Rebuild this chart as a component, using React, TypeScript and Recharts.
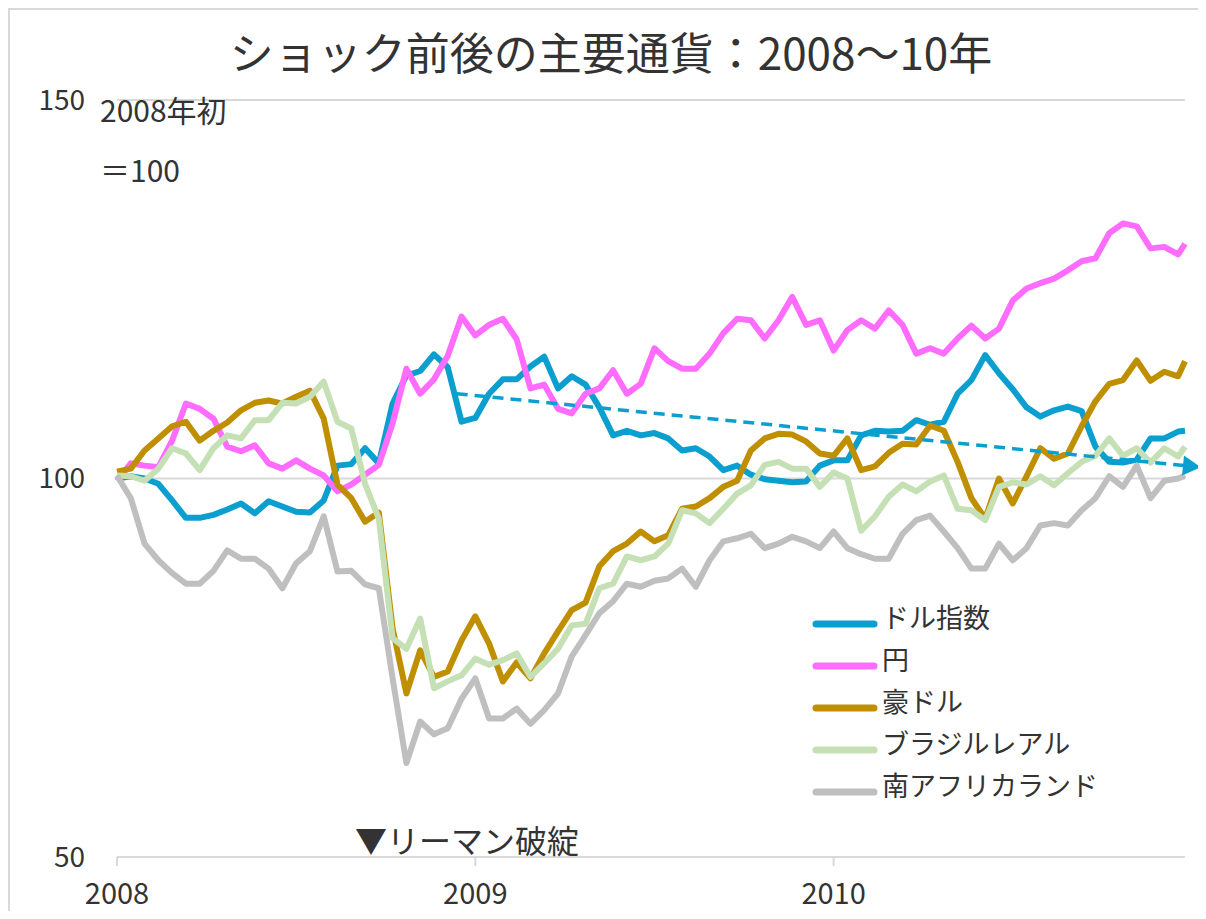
import React from 'react'
import { LineChart, Line, XAxis, YAxis, CartesianGrid } from 'recharts'

const FONT = "'Noto Sans CJK JP', 'Noto Sans', sans-serif"
const TEXT = '#333333'
const GRID = '#d9d9d9'

const BLUE = '#0a9fcf'
const PINK = '#ff6cff'
const GOLD = '#bf8f00'
const GREEN = '#c5e0b4'
const GRAY = '#bfbfbf'

// weeks since 2008-01-01 (every second week)
const weeks = [
  0, 2, 4, 6, 8, 10, 12, 14, 16, 18, 20, 22, 24, 26, 28, 30, 32, 34, 36, 38,
  40, 42, 44, 46, 48, 50, 52, 54, 56, 58, 60, 62, 64, 66, 68, 70, 72, 74, 76, 78,
  80, 82, 84, 86, 88, 90, 92, 94, 96, 98, 100, 102, 104, 106, 108, 110, 112, 114, 116, 118,
  120, 122, 124, 126, 128, 130, 132, 134, 136, 138, 140, 142, 144, 146, 148, 150, 152, 154, 155,
]
const yearTicks = [0, 52, 104]
const yearLabels = ['2008', '2009', '2010']
const valueTicks = [50, 100, 150]

const seriesNames = ['ドル指数', '円', '豪ドル', 'ブラジルレアル', '南アフリカランド']

const dollarIndex = [
  100.0, 100.3, 100.0, 99.3, 97.1, 94.8, 94.8, 95.2, 95.9, 96.7, 95.4, 97.0, 96.3, 95.6, 95.5, 97.1, 101.7, 101.9, 104.0, 102.0,
  109.9, 113.6, 114.2, 116.4, 114.7, 107.5, 108.0, 111.2, 113.1, 113.1, 114.8, 116.1, 111.9, 113.5, 112.4, 109.4, 105.7, 106.3, 105.7, 106.0,
  105.3, 103.7, 104.0, 102.9, 101.1, 101.7, 100.5, 99.9, 99.7, 99.5, 99.6, 101.7, 102.4, 102.4, 105.7, 106.3, 106.2, 106.3, 107.7, 107.1,
  107.5, 111.2, 113.0, 116.3, 113.9, 111.8, 109.4, 108.2, 109.0, 109.5, 108.9, 104.2, 102.2, 102.1, 102.5, 105.3, 105.3, 106.2, 106.3,
]
const yen = [
  99.7, 102.0, 101.7, 101.5, 105.0, 109.9, 109.2, 107.9, 104.2, 103.6, 104.4, 102.0, 101.3, 102.4, 101.3, 100.4, 98.3, 99.2, 100.5, 101.8,
  107.3, 114.5, 111.2, 113.1, 116.2, 121.4, 118.9, 120.3, 121.1, 118.4, 111.9, 112.4, 109.2, 108.6, 111.2, 111.9, 114.3, 111.2, 112.5, 117.2,
  115.5, 114.5, 114.5, 116.5, 119.2, 121.1, 120.9, 118.5, 120.9, 124.0, 120.3, 120.9, 116.9, 119.6, 120.9, 119.8, 122.2, 120.3, 116.5, 117.2,
  116.5, 118.5, 120.2, 118.5, 119.8, 123.5, 125.1, 125.8, 126.4, 127.5, 128.7, 129.1, 132.4, 133.7, 133.3, 130.4, 130.6, 129.6, 131.0,
]
const audDollar = [
  100.9, 101.3, 103.7, 105.3, 106.9, 107.5, 105.0, 106.3, 107.4, 109.0, 110.0, 110.3, 109.9, 110.8, 111.6, 107.9, 99.2, 97.4, 94.3, 95.5,
  80.2, 71.6, 77.3, 73.8, 74.5, 78.6, 81.8, 78.2, 73.2, 75.7, 73.6, 76.9, 79.8, 82.6, 83.6, 88.4, 90.4, 91.4, 93.0, 91.7,
  92.5, 96.0, 96.3, 97.4, 98.9, 99.7, 103.7, 105.3, 105.9, 105.8, 104.9, 103.3, 103.0, 105.3, 101.1, 101.6, 103.4, 104.6, 104.5, 107.0,
  106.3, 102.2, 97.4, 94.7, 100.0, 96.7, 100.3, 104.0, 102.6, 103.3, 106.9, 110.2, 112.5, 113.0, 115.6, 112.9, 114.1, 113.5, 115.5,
]
const brazilReal = [
  100.4, 100.3, 99.7, 101.3, 104.0, 103.3, 101.1, 104.0, 105.7, 105.3, 107.7, 107.7, 110.0, 109.9, 110.8, 112.8, 107.5, 106.6, 99.3, 94.7,
  78.9, 77.5, 81.5, 72.3, 73.2, 74.0, 76.2, 75.4, 76.0, 76.9, 73.8, 75.6, 77.5, 80.6, 80.8, 85.5, 86.1, 89.7, 89.2, 89.7,
  91.4, 95.8, 95.4, 94.1, 96.0, 98.0, 99.1, 101.8, 102.2, 101.3, 101.3, 98.9, 100.8, 100.0, 93.1, 95.0, 97.6, 99.2, 98.3, 99.6,
  100.4, 96.0, 95.8, 94.5, 98.9, 99.5, 99.2, 100.3, 99.1, 100.7, 102.2, 103.0, 105.3, 103.0, 104.0, 102.1, 104.0, 102.9, 104.2,
]
const randZar = [
  100.4, 97.4, 91.4, 89.2, 87.5, 86.1, 86.1, 87.8, 90.5, 89.4, 89.4, 88.1, 85.5, 88.8, 90.4, 95.0, 87.7, 87.8, 86.0, 85.5,
  73.6, 62.4, 67.9, 66.2, 67.0, 70.9, 73.6, 68.3, 68.3, 69.6, 67.6, 69.4, 71.6, 76.5, 79.3, 82.2, 83.8, 86.1, 85.7, 86.5,
  86.8, 88.1, 85.7, 89.2, 91.7, 92.1, 92.7, 90.8, 91.4, 92.3, 91.7, 90.8, 93.0, 90.8, 90.0, 89.4, 89.4, 92.7, 94.5, 95.1,
  93.0, 90.8, 88.1, 88.1, 91.4, 89.2, 90.8, 93.8, 94.1, 93.8, 95.8, 97.4, 100.3, 98.9, 101.7, 97.4, 99.7, 100.0, 100.4,
]

// dashed trend arrow for the dollar index
const trendWeeks = [49.3, 155]
const trendValues = [111.2, 101.7]

const data = weeks.map((w, i) => ({
  w,
  dollar: dollarIndex[i],
  yen: yen[i],
  aud: audDollar[i],
  brl: brazilReal[i],
  zar: randZar[i],
}))
const trendData = trendWeeks.map((w, i) => ({ w, trend: trendValues[i] }))

const legendColors = [BLUE, PINK, GOLD, GREEN, GRAY]

const ArrowHead = (props: any) => {
  const { cx, cy, index, points } = props
  if (index !== trendValues.length - 1) return <g key={`t${index}`} />
  let angle = 5.6
  if (points && points.length > 1) {
    const a = points[0]
    const b = points[points.length - 1]
    angle = (Math.atan2(b.y - a.y, b.x - a.x) * 180) / Math.PI
  }
  return (
    <polygon
      key="arrow"
      points="-2,-10 16,0 -2,10"
      transform={`translate(${cx},${cy}) rotate(${angle})`}
      fill={BLUE}
    />
  )
}

export default function App() {
  const W = 1198
  const H = 903
  const lw = 6
  return (
    <div style={{ position: 'relative', width: W, height: H, fontFamily: FONT }}>
      <div style={{ position: 'absolute', left: 0, top: 0, width: W, height: H, borderTop: `2px solid ${GRID}`, borderLeft: `2px solid ${GRID}`, boxSizing: 'border-box' }} />
      <LineChart width={W} height={H} data={data} margin={{ top: 92, right: 21, bottom: 2, left: 29 }}>
        <CartesianGrid horizontal vertical={false} stroke={GRID} strokeWidth={2} />
        <XAxis
          dataKey="w"
          type="number"
          domain={[0, 155]}
          ticks={yearTicks}
          tickFormatter={(v: number) => yearLabels[yearTicks.indexOf(v)]}
          axisLine={{ stroke: GRID, strokeWidth: 2 }}
          tickLine={{ stroke: GRID, strokeWidth: 2 }}
          tickSize={9}
          tickMargin={17}
          height={52}
          tick={{ fontSize: 29, fill: TEXT, fontFamily: FONT }}
        />
        <YAxis
          domain={[50, 150]}
          ticks={valueTicks}
          axisLine={false}
          tickLine={false}
          tickSize={0}
          tickMargin={32}
          width={80}
          tick={{ fontSize: 28, fill: TEXT, fontFamily: FONT }}
        />
        <Line type="linear" dataKey="dollar" name={seriesNames[0]} stroke={BLUE} strokeWidth={lw} dot={false} strokeLinejoin="round" isAnimationActive={false} />
        <Line type="linear" dataKey="yen" name={seriesNames[1]} stroke={PINK} strokeWidth={lw} dot={false} strokeLinejoin="round" isAnimationActive={false} />
        <Line type="linear" dataKey="aud" name={seriesNames[2]} stroke={GOLD} strokeWidth={lw} dot={false} strokeLinejoin="round" isAnimationActive={false} />
        <Line type="linear" dataKey="brl" name={seriesNames[3]} stroke={GREEN} strokeWidth={lw} dot={false} strokeLinejoin="round" isAnimationActive={false} />
        <Line type="linear" dataKey="zar" name={seriesNames[4]} stroke={GRAY} strokeWidth={lw} dot={false} strokeLinejoin="round" isAnimationActive={false} />
        <Line
          data={trendData}
          type="linear"
          dataKey="trend"
          stroke={BLUE}
          strokeWidth={3.5}
          strokeDasharray="11 7"
          dot={ArrowHead}
          activeDot={false}
          legendType="none"
          isAnimationActive={false}
        />
      </LineChart>
      <svg width={W} height={H} style={{ position: 'absolute', left: 0, top: 0, pointerEvents: 'none' }}>
        <text x={603} y={62} textAnchor="middle" fontSize={44} fill={TEXT} fontFamily={FONT}>
          ショック前後の主要通貨：2008～10年
        </text>
        <text x={92} y={114} fontSize={30} fill={TEXT} fontFamily={FONT}>
          2008年初
        </text>
        <text x={92} y={174} fontSize={30} fill={TEXT} fontFamily={FONT}>
          ＝100
        </text>
        <text x={347} y={845} fontSize={32} fill={TEXT} fontFamily={FONT}>
          ▼リーマン破綻
        </text>
        {seriesNames.map((name, i) => (
          <g key={name}>
            <line x1={808} x2={866} y1={616 + i * 42} y2={616 + i * 42} stroke={legendColors[i]} strokeWidth={7} strokeLinecap="round" />
            <text x={874} y={620 + i * 42} fontSize={27} fill={TEXT} fontFamily={FONT}>
              {name}
            </text>
          </g>
        ))}
      </svg>
    </div>
  )
}
